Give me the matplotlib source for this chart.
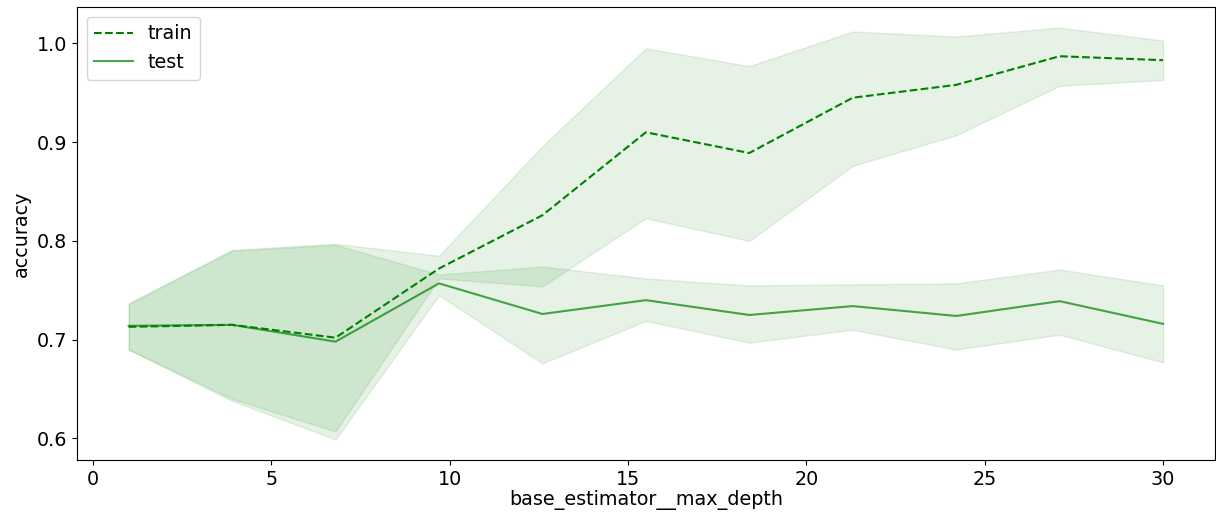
import matplotlib
matplotlib.use("Agg")
import matplotlib.pyplot as plt

# Hyperparameter grid and cross-validated accuracy
max_depth = [1.0, 3.9, 6.8, 9.7, 12.6, 15.5, 18.4, 21.3, 24.2, 27.1, 30.0]

train_mean = [0.713, 0.715, 0.702, 0.772, 0.826, 0.910, 0.889, 0.945, 0.958, 0.987, 0.983]
train_upper = [0.737, 0.791, 0.797, 0.785, 0.896, 0.995, 0.977, 1.012, 1.007, 1.016, 1.003]
train_lower = [0.690, 0.640, 0.607, 0.762, 0.754, 0.823, 0.800, 0.876, 0.907, 0.957, 0.963]

test_mean = [0.714, 0.715, 0.698, 0.757, 0.726, 0.740, 0.725, 0.734, 0.724, 0.739, 0.716]
test_upper = [0.736, 0.790, 0.796, 0.766, 0.774, 0.762, 0.755, 0.756, 0.757, 0.771, 0.755]
test_lower = [0.690, 0.638, 0.599, 0.745, 0.676, 0.719, 0.697, 0.710, 0.690, 0.705, 0.677]

plt.rcParams["font.size"] = 13.8

fig = plt.figure(figsize=(12.16, 5.15), dpi=100)
ax = fig.add_axes([0.0633, 0.1068, 0.9357, 0.8796])

ax.plot(max_depth, train_mean, color="green", linestyle="--", linewidth=1.5, label="train")
ax.fill_between(max_depth, train_lower, train_upper, color="green", alpha=0.1)
ax.plot(max_depth, test_mean, color="green", alpha=0.7, linewidth=1.5, label="test")
ax.fill_between(max_depth, test_lower, test_upper, color="green", alpha=0.1)

ax.set_xlabel("base_estimator__max_depth", labelpad=1)
ax.set_ylabel("accuracy")
ax.set_yticks([0.6, 0.7, 0.8, 0.9, 1.0])
ax.legend(loc="upper left")

fig.savefig("out.png", dpi=100)
